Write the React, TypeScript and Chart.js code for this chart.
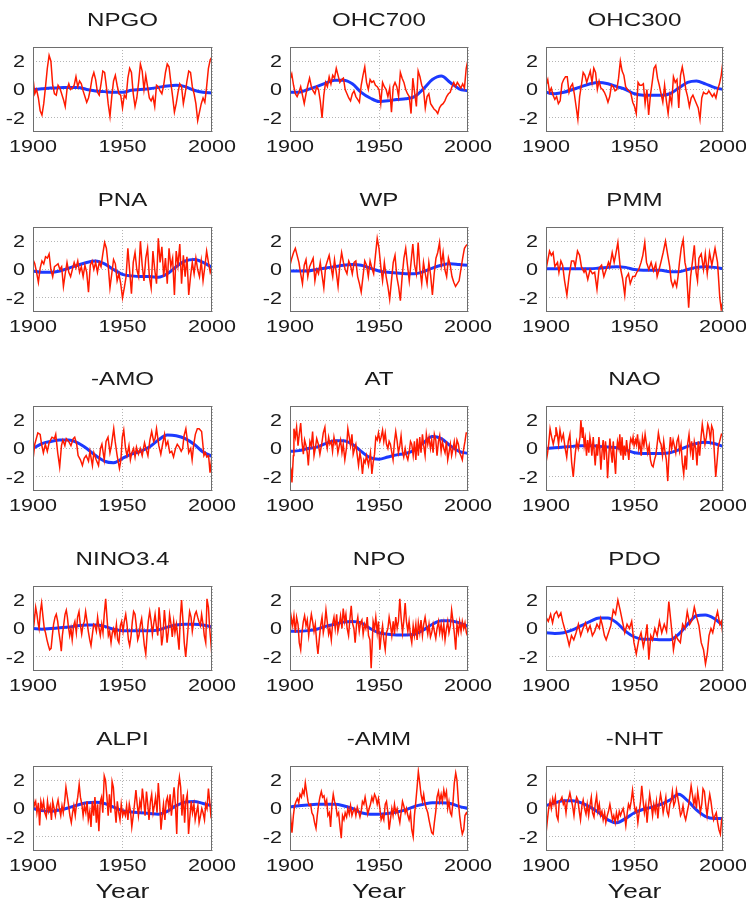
import { useEffect, useRef } from 'react';
import { Chart, registerables } from 'chart.js';
Chart.register(...registerables);

const xTicks = [1900, 1950, 2000];
const yTicks = [-2, 0, 2];
const smoothYears = [1900, 1905, 1910, 1915, 1920, 1925, 1930, 1935, 1940, 1945, 1950, 1955, 1960, 1965, 1970, 1975, 1980, 1985, 1990, 1995, 2000];
const titles = ['NPGO', 'OHC700', 'OHC300', 'PNA', 'WP', 'PMM', '-AMO', 'AT', 'NAO', 'NINO3.4', 'NPO', 'PDO', 'ALPI', '-AMM', '-NHT'];
const xLabel = 'Year';

// yearly values 1900..2000
const npgoRed = [0.8, -0.3, 0.0, -0.6, -1.5, -1.8, -1.0, 0.2, 1.5, 2.4, 2.0, 0.3, -0.3, -0.4, 0.3, 0.1, -0.3, -0.7, -1.2, 0.0, 0.4, 0.0, 0.1, 0.3, 0.9, 0.2, 0.6, 0.4, -0.1, -0.5, -0.9, -0.6, 0.0, 0.8, 1.2, 0.7, -0.2, -0.4, 0.4, 1.3, 1.2, 0.2, -1.0, -1.9, -0.5, 0.6, 1.0, 0.3, -0.3, -0.4, -1.3, -0.4, -0.6, 0.8, 1.5, 1.2, -0.3, -1.2, -0.6, 0.5, 1.8, 1.3, 0.0, 1.0, 0.2, -0.6, -0.8, -0.5, -1.2, 0.3, 0.2, -0.1, -0.3, 0.3, 1.2, 1.8, 1.6, 0.5, -0.5, -1.6, -1.0, -0.2, 0.4, 0.2, -1.0, -0.3, 0.6, 1.3, 1.2, 0.2, -0.3, -1.0, -2.2, -1.6, -1.0, -0.6, -0.9, 0.2, 1.5, 2.1, 2.3];
const npgoBlue = [0.0, 0.05, 0.1, 0.12, 0.15, 0.15, 0.0, -0.1, -0.15, -0.2, -0.2, -0.05, 0.0, 0.05, 0.15, 0.25, 0.3, 0.2, -0.05, -0.2, -0.25];

const ohc700Red = [0.7, 1.1, 0.3, -0.3, -0.5, -0.2, 0.2, -0.4, -1.0, -0.3, 0.3, 0.8, 0.2, -0.1, -0.3, 0.2, 0.0, -0.8, -2.0, -0.4, 0.5, 0.2, 0.9, 0.4, 1.0, 0.8, 1.5, 1.0, 0.5, 0.7, 0.8, 0.0, -0.3, -0.6, -0.8, -0.3, -0.1, -0.5, -0.7, -0.9, 0.3, 1.0, 1.6, 0.5, 0.0, 0.7, 0.5, 0.6, 0.3, 0.2, 0.0, -1.0, 0.5, 0.2, 0.0, -0.5, 0.1, -1.6, 0.2, 0.5, 0.2, -0.5, 1.2, 0.8, 0.5, 0.0, -0.3, -0.5, -1.7, 0.8, -0.2, -1.2, 1.3, 0.9, 0.3, 0.0, -1.3, -0.5, -0.3, -1.0, -1.2, -1.4, -1.5, -1.7, -1.3, -1.1, -1.0, -0.8, -0.5, -0.3, -0.2, 0.2, 0.5, 0.2, 0.5, 0.3, 0.1, 0.4, 0.1, 1.5, 2.1];
const ohc700Blue = [-0.2, -0.2, 0.0, 0.2, 0.45, 0.65, 0.65, 0.4, -0.2, -0.6, -0.85, -0.8, -0.7, -0.65, -0.5, 0.05, 0.7, 0.95, 0.5, 0.05, -0.1];

const ohc300Red = [0.3, 0.7, -0.2, 0.1, -0.4, -0.7, -0.5, -1.0, -0.8, 0.4, 0.7, 0.9, 0.9, -0.2, 0.2, 0.4, -0.3, -1.2, -2.1, -0.5, 0.3, 1.2, 1.0, 0.5, 0.9, 1.3, 0.5, 1.5, 1.2, 0.0, 0.6, 0.1, 0.0, -0.2, -0.5, -0.9, -0.5, 0.3, 0.2, -0.1, 0.0, 0.8, 2.0, 1.3, 1.0, 0.2, 0.0, -0.1, -0.3, -0.9, -1.2, -1.7, 0.5, 0.3, 0.3, 0.4, -1.0, 0.0, -1.8, -0.4, 0.5, 1.5, 1.7, 0.8, 0.3, -0.3, -0.9, 0.3, -0.8, -1.7, -0.4, -1.0, 0.9, 0.5, 0.7, -1.3, 1.0, 1.6, 0.9, 0.0, -0.5, -1.2, -0.6, -0.4, -0.7, -1.0, -1.3, -2.1, -0.6, -0.2, -0.3, -0.3, -0.1, -0.3, -0.5, -0.3, -0.6, 0.0, 0.4, 1.0, 2.0];
const ohc300Blue = [-0.2, -0.3, -0.2, 0.0, 0.2, 0.4, 0.5, 0.4, 0.2, 0.0, -0.3, -0.4, -0.4, -0.4, -0.3, 0.1, 0.5, 0.6, 0.4, 0.15, 0.0];

const pnaRed = [0.7, 0.4, -0.2, -0.9, 0.1, 0.6, 0.4, 0.9, 0.8, 1.1, 0.0, -0.5, 0.2, 0.3, 0.4, 0.0, 0.2, -1.2, -0.3, 0.5, -0.2, -0.5, 0.0, 0.5, 0.1, 0.6, -0.2, 0.2, -0.5, 0.3, -0.2, -1.6, 0.3, 0.6, 0.0, 0.5, -0.2, 0.5, 0.2, 1.1, 1.9, 1.5, 0.3, -1.3, -0.3, 0.7, 0.4, -0.8, -0.3, -1.0, -2.0, -1.3, -0.5, 1.5, -0.1, -1.7, 0.5, 1.2, 0.0, -0.5, 2.0, 0.3, -0.8, 0.8, 1.5, -0.5, -1.3, 1.3, 0.0, -1.0, 2.2, 0.5, 1.6, -0.5, 0.8, -1.0, 1.5, 0.2, 0.8, -1.8, 1.3, 0.3, 1.8, -1.0, 1.0, -0.5, 0.9, -1.8, -0.5, 0.5, -0.3, 0.8, 0.0, -0.5, 0.6, -0.8, 0.2, 1.3, 0.5, -0.2, 0.2];
const pnaBlue = [-0.1, -0.2, -0.2, -0.1, 0.1, 0.3, 0.5, 0.6, 0.4, 0.0, -0.35, -0.45, -0.5, -0.5, -0.55, -0.3, 0.2, 0.6, 0.7, 0.5, 0.15];

const wpRed = [0.3, 0.8, 1.2, 1.5, 1.0, 0.5, -0.3, -1.0, 0.3, 0.7, -0.5, 0.2, 0.5, 0.8, -0.8, 0.0, -0.3, 0.5, -0.4, -1.3, 0.2, 0.6, 1.0, 0.2, -0.5, 0.7, -0.2, -1.2, 0.3, 1.2, 0.5, 0.0, -0.3, 0.6, 0.3, -0.3, 0.5, 0.6, -0.5, -1.0, -1.6, -0.5, 0.6, 0.3, -0.5, 0.6, 0.1, -0.3, 1.0, 2.2, 1.5, 0.2, -0.8, 0.5, -0.5, -1.2, -2.1, -0.8, 0.5, 1.0, -0.5, -1.2, -2.2, -0.5, 0.8, 1.5, 0.3, -0.8, 0.5, 1.8, 0.3, -0.3, 1.9, 0.0, -1.0, 0.5, -0.3, -1.0, 0.5, -0.4, -1.8, -0.3, 0.8, 1.2, 1.9, 0.3, 1.2, 0.0, -0.5, 0.8, 0.3, -0.5, -0.9, -1.2, -1.0, -0.8, 0.0, 0.8, 1.5, 1.7, 1.8];
const wpBlue = [-0.1, -0.1, -0.1, 0.0, 0.1, 0.2, 0.3, 0.35, 0.3, 0.1, -0.1, -0.2, -0.25, -0.3, -0.3, -0.15, 0.1, 0.3, 0.4, 0.35, 0.3];

// [year, value] readings
const pmmRed = [[1900, 0.0], [1902, 1.3], [1903, 1.0], [1904, 1.2], [1905, 0.2], [1906.5, 0.5], [1907.3, -0.2], [1908.4, 0.6], [1909.4, 0.3], [1910.5, -0.8], [1911.8, -1.8], [1913, -0.5], [1914.4, 0.6], [1915.7, 0.6], [1916.5, 0.2], [1917.8, 1.3], [1919, 1.0], [1920, 0.2], [1921.5, -0.2], [1922.3, 0.0], [1923.6, -0.7], [1924.9, 0.0], [1926.2, -0.3], [1927.5, -0.2], [1928.8, -1.4], [1930, 0.1], [1931.4, 0.3], [1932.7, -0.5], [1934, 0.0], [1935.3, 0.5], [1936, 0.2], [1937.4, 1.2], [1938.5, 0.5], [1939.3, 1.0], [1940.6, 1.9], [1941.9, 0.2], [1943.2, -0.6], [1944.5, -1.8], [1945.3, -0.6], [1946.6, -0.3], [1947.6, -1.0], [1949, -0.5], [1950.3, -0.5], [1951.3, -0.2], [1952.4, 0.0], [1953.7, 0.5], [1954.7, 1.0], [1955.8, 1.9], [1956.8, 0.5], [1958.1, 0.0], [1959.4, 0.5], [1960.7, -0.1], [1962, 0.4], [1962.8, -0.5], [1963.9, 0.0], [1964.9, 0.5], [1966.2, 1.2], [1967.5, 2.0], [1968.8, 1.0], [1969.9, 0.2], [1970.7, -0.8], [1971.7, -1.2], [1972.8, -0.8], [1973.8, -1.2], [1974.6, -0.5], [1975.4, 0.5], [1976.4, 1.5], [1977.5, 2.1], [1978.5, 0.5], [1979.3, 0.0], [1980.6, -2.7], [1981.7, -0.5], [1982.7, 0.5], [1983.8, 1.7], [1984.8, -0.2], [1985.6, -0.8], [1986.4, 0.8], [1987.7, 1.1], [1989, 0.0], [1990, 1.1], [1991.1, -0.3], [1992.4, 1.2], [1993.7, 0.3], [1995.5, 1.5], [1996.9, 0.5], [1998.2, -2.0], [1999, -2.8], [2000, -2.2]];
const pmmBlue = [0.05, 0.05, 0.05, 0.05, 0.05, 0.05, 0.1, 0.15, 0.2, 0.15, 0.0, -0.05, -0.05, -0.05, -0.15, -0.15, 0.0, 0.15, 0.2, 0.15, 0.05];

const amoRed = [[1900, -0.8], [1901, 0.3], [1902.7, 1.1], [1904, 1.0], [1904.8, 0.3], [1905.8, -0.3], [1906.9, 0.3], [1908, -0.2], [1909, 0.4], [1910.6, 0.8], [1912, 0.7], [1912.7, 1.0], [1913.8, -0.3], [1914.9, -1.3], [1915.9, 0.2], [1916.7, 0.6], [1917.8, 0.2], [1918.6, 0.7], [1919.9, 0.5], [1921.2, 0.2], [1922.5, 0.7], [1923.3, 0.8], [1924.4, 0.3], [1925.2, -0.5], [1926.5, -0.8], [1927.6, -1.2], [1928.6, -0.7], [1929.7, -0.5], [1931, -0.9], [1931.8, -0.2], [1933.2, -1.2], [1934, -0.3], [1935.3, -0.8], [1936.6, -1.2], [1937.7, 0.0], [1938.5, 0.3], [1939.8, -0.8], [1940.8, 0.5], [1941.9, 0.8], [1943, -0.3], [1943.8, 0.2], [1945.1, 1.4], [1945.9, 0.5], [1947, -0.5], [1948.3, -1.4], [1949.1, -0.8], [1949.9, 0.8], [1950.7, 1.3], [1951.7, 0.0], [1952.5, -0.5], [1953.6, 0.2], [1954.4, -0.8], [1955.2, -0.3], [1956.2, 0.0], [1957, -0.6], [1957.8, 0.1], [1958.9, -0.4], [1959.9, 0.0], [1961, -0.5], [1962.3, 0.4], [1963.1, 0.0], [1964.2, -0.5], [1965.3, 0.6], [1966.3, 1.2], [1967.4, 0.5], [1968.2, 0.7], [1969, 1.4], [1970.3, 0.2], [1971.4, -0.4], [1972.4, 0.3], [1973.5, 1.0], [1974.3, 0.2], [1975.3, 0.5], [1976.4, -0.3], [1977.5, -0.2], [1978.5, -0.6], [1979.6, 0.0], [1980.6, 0.3], [1981.7, 0.1], [1982.8, -0.2], [1983.6, 0.0], [1984.4, 0.9], [1985.4, 1.4], [1986.2, 0.6], [1987, -0.3], [1988.1, 0.0], [1988.9, -0.8], [1989.7, 0.2], [1990.7, 1.0], [1991.8, 1.4], [1992.8, 1.4], [1994.2, 1.2], [1995.5, -0.5], [1996.3, -0.3], [1997.1, -0.6], [1998.1, -0.5], [1998.9, -1.7], [2000, -0.5]];
const amoBlue = [0.0, 0.35, 0.5, 0.6, 0.6, 0.4, 0.0, -0.5, -0.9, -1.0, -0.7, -0.4, -0.2, 0.1, 0.6, 0.95, 0.9, 0.7, 0.3, -0.25, -0.55];

const atRed = [[1900, -1.2], [1900.6, -1.5], [1901.1, -2.4], [1901.9, -0.5], [1902.2, 1.4], [1903, 0.8], [1903.7, 1.5], [1904.5, 0.2], [1905.2, 1.0], [1906, 1.8], [1906.7, 0.5], [1907.5, -0.4], [1908.2, 0.6], [1909, 0.2], [1909.7, -0.3], [1910.3, -1.2], [1911.2, 0.5], [1912, 0.2], [1912.7, 1.2], [1913.5, -0.5], [1914.2, 0.0], [1915, 0.7], [1915.9, 0.3], [1916.8, -0.4], [1917.8, 0.3], [1918.7, 1.1], [1919.6, 1.5], [1920.2, 0.5], [1920.9, 0.0], [1921.7, 0.8], [1922.4, 0.3], [1923.2, 0.5], [1923.9, -0.2], [1924.7, 0.8], [1925.4, 0.3], [1926.2, 0.5], [1926.9, -0.3], [1927.7, 0.2], [1928.4, 0.6], [1929.2, -0.3], [1929.9, 0.3], [1930.8, -0.8], [1931.8, 0.1], [1932.5, 1.4], [1933.3, 0.8], [1934, 0.2], [1934.8, 1.0], [1935.5, -0.4], [1936.3, 0.0], [1937, 0.3], [1937.8, -0.5], [1938.5, -1.2], [1939.3, -0.3], [1940, -0.8], [1940.7, -1.8], [1941.5, -0.8], [1942.2, -1.0], [1943, -0.5], [1944.1, -1.2], [1945.2, -0.3], [1946, -1.8], [1946.7, -1.0], [1947.5, -0.4], [1948.2, 0.8], [1949, 0.6], [1949.7, 1.1], [1950.5, 0.5], [1951.2, 0.8], [1952, 1.3], [1952.7, 0.5], [1953.5, 1.1], [1954.2, 0.3], [1955, 0.0], [1955.7, 0.5], [1956.4, 0.3], [1957.2, -0.3], [1957.9, -0.8], [1958.7, 0.5], [1959.4, 1.2], [1960.2, 0.5], [1960.9, -0.3], [1961.7, 0.2], [1962.4, 0.9], [1963.2, -0.2], [1963.9, -0.6], [1964.7, 0.0], [1965.4, -0.5], [1966.2, -0.8], [1966.9, -0.3], [1967.7, 0.5], [1968.4, 0.3], [1969.2, -0.5], [1969.9, 0.5], [1970.7, -0.8], [1971.4, 0.7], [1972.1, -0.5], [1972.9, 0.8], [1973.6, -0.3], [1974.4, 1.0], [1975.1, 0.2], [1975.9, -0.5], [1976.6, 1.0], [1977.4, 0.3], [1978.1, 0.8], [1978.9, 0.0], [1979.6, 0.6], [1980.4, -0.3], [1981.1, 1.0], [1981.9, 0.6], [1982.6, -0.5], [1983.4, 0.5], [1984.1, 0.9], [1984.9, -0.2], [1985.6, 0.5], [1986.4, 0.0], [1987.1, -0.3], [1987.9, 0.5], [1988.6, -0.8], [1989.3, -0.3], [1990.1, 0.3], [1990.8, -0.5], [1991.6, 0.0], [1992.3, 0.5], [1993.1, -0.3], [1993.8, 0.6], [1994.6, 0.3], [1995.3, -0.3], [1996, -0.5], [1996.8, -0.8], [1997.6, 0.0], [1998.3, 0.5], [1999, 1.1], [2000, 1.1]];
const atBlue = [-0.2, -0.15, 0.0, 0.1, 0.35, 0.55, 0.55, 0.3, -0.2, -0.65, -0.75, -0.6, -0.45, -0.35, -0.1, 0.4, 0.85, 0.7, 0.2, -0.2, -0.35];

const naoRed = [[1900, -1.0], [1900.8, -0.4], [1901.5, 0.3], [1902.3, 1.4], [1903.2, 0.8], [1904.1, 0.3], [1905.1, 0.9], [1905.6, 1.5], [1906.4, 1.0], [1907.1, 0.3], [1907.9, 1.3], [1908.8, 0.6], [1909.8, 1.0], [1910.7, 0.1], [1911.7, -0.6], [1912.6, 0.5], [1913.5, 1.0], [1914.5, -1.0], [1915.4, -2.0], [1916.4, -0.5], [1917.3, 0.5], [1918.2, 0.0], [1919.2, 0.8], [1919.7, 2.0], [1920.5, 0.8], [1920.9, 1.5], [1921.6, 0.2], [1922.2, 0.7], [1922.9, -0.5], [1923.5, 0.6], [1924.2, -0.3], [1924.8, 0.8], [1925.4, 0.3], [1925.9, -0.5], [1926.7, 0.8], [1927.2, -0.2], [1927.8, -1.2], [1928.6, 0.3], [1929.1, -0.5], [1929.9, 0.8], [1930.5, -0.3], [1931, -1.5], [1931.8, 0.0], [1932.3, 0.6], [1932.9, -0.8], [1933.6, 0.5], [1934.2, -0.3], [1934.8, -2.1], [1935.5, -0.5], [1936.1, 0.7], [1936.7, -0.2], [1937.4, -1.0], [1938, 0.5], [1938.5, -0.5], [1939.3, -1.8], [1939.8, -0.3], [1940.4, 0.5], [1941.2, 0.0], [1941.7, 1.0], [1942.3, -0.5], [1943, 0.8], [1943.6, -0.8], [1944.2, 0.2], [1944.9, -0.5], [1945.5, 0.6], [1946, 0.0], [1946.8, -0.8], [1947.4, 0.3], [1947.9, 0.7], [1948.7, 0.4], [1949.2, 0.8], [1949.8, 0.2], [1950.6, 0.6], [1951.1, 0.3], [1951.7, 1.0], [1952.4, 0.0], [1953, 0.4], [1953.8, -0.5], [1954.5, 0.8], [1955.3, 0.2], [1956, 1.0], [1956.8, 0.3], [1957.5, -0.3], [1958.3, 0.2], [1959, -0.8], [1959.8, -1.2], [1960.5, -1.3], [1961.3, -0.8], [1962, -0.5], [1962.8, 0.3], [1963.5, 1.1], [1964.3, 0.5], [1965, 0.3], [1965.8, -0.5], [1966.5, 0.5], [1967.3, -0.3], [1968, -0.8], [1968.8, -2.3], [1969.5, -0.5], [1970.3, 0.8], [1971, 0.0], [1971.8, 0.6], [1972.5, 0.2], [1973.3, -0.3], [1974, 0.5], [1974.8, 0.8], [1975.5, -0.2], [1976.3, 0.3], [1977, -1.0], [1977.8, -1.8], [1978.6, -0.5], [1979.3, -1.5], [1980, 0.3], [1980.8, 1.0], [1981.6, -0.2], [1982.3, 0.5], [1983, -0.8], [1983.8, 0.5], [1984.6, 0.0], [1985.3, -1.2], [1986, 0.5], [1986.8, -0.5], [1987.6, 0.8], [1988.3, 1.7], [1989.1, 1.0], [1989.8, 0.3], [1990.6, 0.8], [1991.4, 1.7], [1992.1, 1.4], [1992.9, 0.6], [1993.6, 1.6], [1994.4, 1.3], [1995.1, -0.3], [1995.9, -2.0], [1996.6, -1.0], [1997.4, 0.2], [1998.1, 0.5], [1999.1, 1.0], [2000, 0.9]];
const naoBlue = [0.0, 0.05, 0.1, 0.15, 0.2, 0.2, 0.15, 0.1, 0.05, -0.1, -0.3, -0.35, -0.35, -0.35, -0.3, -0.1, 0.15, 0.35, 0.45, 0.35, 0.15];

const ninoRed = [[1900, 1.2], [1900.7, 0.5], [1901.5, 1.5], [1902.2, 1.0], [1902.8, 0.4], [1903.4, 0.0], [1904.1, 1.2], [1904.8, 1.8], [1905.6, 0.8], [1906.3, 0.0], [1907, -0.3], [1907.8, -0.8], [1908.6, -1.2], [1909.3, -1.5], [1910.1, -1.4], [1910.8, -0.5], [1911.5, 0.3], [1912.3, 0.8], [1913, 1.0], [1913.8, 0.5], [1914.5, -0.3], [1915.3, -1.0], [1915.8, -1.6], [1916.4, -0.5], [1917.1, 0.2], [1917.9, 1.0], [1918.6, 1.3], [1919.2, 0.8], [1919.7, 0.2], [1920.5, -0.5], [1921.2, 0.0], [1921.9, -0.8], [1922.7, 0.2], [1923.4, 0.5], [1924.2, -0.3], [1924.9, 0.8], [1925.7, 1.2], [1926.4, 0.3], [1927.2, -0.4], [1927.9, 0.2], [1928.7, 0.5], [1929.4, 1.2], [1930.2, 0.5], [1930.9, -0.2], [1931.7, -0.8], [1932.4, -1.2], [1933.1, -0.5], [1933.9, 0.3], [1934.6, 0.2], [1935.4, -0.2], [1936.1, 0.8], [1936.9, 0.0], [1937.6, -0.5], [1938.4, 0.3], [1939.1, -0.3], [1939.8, 1.0], [1940.6, 2.1], [1941.3, 0.8], [1942.1, -0.5], [1942.8, -0.2], [1943.6, -1.0], [1944.3, -0.3], [1945, 0.0], [1945.8, -0.5], [1946.6, 0.3], [1947.3, -0.8], [1948, -1.0], [1948.8, 0.2], [1949.5, 0.5], [1950.3, -0.2], [1951, 0.5], [1951.8, 1.0], [1952.5, 0.3], [1953.3, -0.8], [1954, -1.2], [1954.8, -0.5], [1955.5, 0.5], [1956.2, 1.2], [1957, 1.0], [1957.7, 0.2], [1958.5, -0.8], [1959.2, -0.5], [1960, 0.3], [1960.7, 0.7], [1961.5, -0.3], [1962.2, -1.2], [1963, -1.8], [1963.7, -0.5], [1964.4, 0.5], [1965.2, 1.2], [1966, 0.5], [1966.7, -0.4], [1967.4, 0.3], [1968.2, 1.0], [1968.9, 0.2], [1969.7, -0.5], [1970.4, 1.5], [1971.1, 0.5], [1971.9, -1.2], [1972.6, -0.5], [1973.4, 1.3], [1974.1, 0.3], [1974.9, -1.0], [1975.6, -0.2], [1976.3, 1.0], [1977.1, 0.3], [1977.8, -0.6], [1978.6, 0.5], [1979.3, -0.3], [1980.1, 0.3], [1980.8, -0.5], [1981.6, -1.5], [1982.3, 0.8], [1983, 2.0], [1983.8, 0.5], [1984.5, -1.0], [1985.3, -2.0], [1986, -1.0], [1986.8, 0.3], [1987.5, 1.2], [1988.3, 0.8], [1989, -0.2], [1989.8, 0.5], [1990.5, 1.0], [1991.2, 1.2], [1992, 0.8], [1992.7, 0.5], [1993.5, 0.2], [1994.2, 1.0], [1995, 0.3], [1995.7, -0.5], [1996.5, -1.0], [1997.2, 2.1], [1998, 1.5], [1998.7, 0.0], [1999.4, -1.0], [2000, -2.0]];
const ninoBlue = [0.0, -0.05, 0.0, 0.05, 0.1, 0.2, 0.25, 0.25, 0.15, -0.05, -0.15, -0.15, -0.15, -0.15, -0.1, 0.1, 0.25, 0.3, 0.3, 0.25, 0.1];

const npoRed = [[1900, -0.5], [1900.7, 0.8], [1901.5, 0.2], [1902.2, 0.9], [1903, -0.3], [1903.7, 0.8], [1904.5, 0.3], [1905.2, -1.0], [1906, -1.5], [1906.7, -0.3], [1907.5, 0.5], [1908.2, 0.9], [1909, 0.2], [1909.7, 0.6], [1910.5, -0.5], [1911.2, 0.3], [1912, 1.0], [1912.7, 0.5], [1913.5, -0.2], [1914.2, 0.3], [1915, -1.0], [1915.7, -1.8], [1916.4, -0.8], [1917.2, 0.2], [1918, 0.8], [1918.7, -0.3], [1919.4, 0.2], [1920.2, 1.3], [1920.9, 0.5], [1921.7, -0.4], [1922.4, 0.0], [1923.2, -0.8], [1923.9, 0.3], [1924.7, 0.8], [1925.4, 0.0], [1926.2, 1.0], [1926.9, -0.2], [1927.7, 0.3], [1928.4, 0.9], [1929.2, 0.0], [1929.9, 1.4], [1930.7, 0.5], [1931.4, 1.0], [1932.1, 0.0], [1932.9, -0.5], [1933.6, 0.6], [1934.4, 1.6], [1935.1, 0.4], [1935.9, 0.0], [1936.6, -1.0], [1937.4, 0.3], [1938.1, 0.8], [1938.9, -0.2], [1939.6, 0.4], [1940.4, 0.6], [1941.1, -0.4], [1941.9, 0.3], [1942.6, 0.0], [1943.4, 0.8], [1944.1, -0.5], [1944.9, -0.8], [1945.6, -2.8], [1946.2, -1.0], [1946.7, 0.5], [1947.5, 0.0], [1948.2, 0.8], [1949, -0.3], [1949.7, 0.5], [1950.5, -1.5], [1951.2, -0.5], [1952, 0.2], [1952.7, -0.8], [1953.5, -1.5], [1954.2, -0.3], [1955, 0.0], [1955.7, 0.8], [1956.5, 0.2], [1957.2, -0.5], [1958, 0.5], [1958.7, -0.4], [1959.4, 0.8], [1960.2, 0.0], [1960.9, 0.5], [1961.7, 2.1], [1962.4, 0.8], [1963.2, -0.3], [1963.9, 0.5], [1964.7, 1.8], [1965.4, 0.5], [1966.2, -0.2], [1966.9, 0.5], [1967.7, -0.5], [1968.4, -1.0], [1969.2, 0.2], [1969.9, -0.5], [1970.7, 0.3], [1971.4, -0.8], [1972.1, 0.4], [1972.9, -0.3], [1973.6, 0.6], [1974.4, -0.5], [1975.1, 0.3], [1975.9, 0.8], [1976.6, 0.2], [1977.4, -0.4], [1978.1, 0.3], [1978.9, -0.6], [1979.6, -0.3], [1980.4, 0.3], [1981.1, -0.2], [1981.9, -0.7], [1982.6, 0.0], [1983.4, 0.5], [1984.1, -0.3], [1984.9, 0.3], [1985.6, -0.5], [1986.4, 0.3], [1987.1, -0.8], [1987.9, 0.0], [1988.6, 0.5], [1989.3, -0.3], [1990.1, 0.2], [1990.8, 1.3], [1991.6, 0.5], [1992.3, -0.3], [1993.1, -1.5], [1993.8, 0.3], [1994.6, -0.3], [1995.3, 0.5], [1996.1, -0.2], [1996.8, 0.5], [1997.6, 0.0], [1998.3, 0.4], [1999.1, -0.3], [2000, -0.6]];
const npoBlue = [-0.2, -0.2, -0.15, -0.05, 0.15, 0.3, 0.45, 0.5, 0.4, 0.0, -0.3, -0.4, -0.45, -0.45, -0.4, -0.1, 0.3, 0.55, 0.55, 0.4, 0.15];

const pdoRed = [[1900, 0.8], [1901.3, 0.5], [1902.6, 1.0], [1903.7, 0.4], [1904.7, 1.0], [1906, 1.2], [1907.1, 0.8], [1908.4, 1.1], [1909.4, 0.5], [1910.5, 0.0], [1911.8, -0.5], [1913.1, -1.2], [1914.4, -0.5], [1915.7, -0.8], [1917, -0.3], [1918.3, 0.3], [1919.6, -0.5], [1920.9, 0.0], [1922.3, 0.4], [1923.6, -0.2], [1924.9, 0.2], [1926.2, -0.5], [1927.5, -0.2], [1928.8, 0.3], [1930.1, 0.0], [1930.9, 0.7], [1931.9, 0.2], [1933, -0.5], [1934, -0.8], [1935.3, -0.3], [1936.6, 0.2], [1938, 1.3], [1939.3, 1.0], [1940.6, 2.0], [1941.9, 1.3], [1943.2, 0.5], [1944.5, -0.3], [1945.8, 0.3], [1947.1, 0.0], [1948.4, 0.5], [1949.7, -1.0], [1951, -1.8], [1952.4, -0.8], [1953.7, -0.3], [1955, -1.3], [1956.3, -0.5], [1957.1, 0.3], [1958.1, -2.2], [1959.2, -0.5], [1960.2, -0.8], [1961.5, 0.0], [1962.8, -0.5], [1964.1, 0.5], [1965.4, -0.3], [1966.8, 0.3], [1968.1, -0.2], [1969.4, 1.9], [1970.7, 0.3], [1972, -1.5], [1973.3, -0.5], [1974.6, -0.8], [1975.9, -1.0], [1977.2, 0.3], [1978.5, 0.0], [1979.8, 1.2], [1981.2, 0.3], [1982.5, 0.6], [1983.8, 1.5], [1985.1, 0.8], [1986.4, 0.2], [1987.7, -1.0], [1989, -1.5], [1990.1, -2.5], [1991.1, -1.8], [1992.1, -0.5], [1993.2, 0.0], [1994.2, -0.3], [1995.5, 0.5], [1996.9, 1.2], [1998.2, 0.3], [1999, 0.5], [2000, -0.5]];
const pdoBlue = [-0.3, -0.35, -0.3, -0.1, 0.2, 0.5, 0.75, 0.75, 0.4, -0.2, -0.6, -0.75, -0.75, -0.8, -0.8, -0.4, 0.3, 0.9, 0.95, 0.7, 0.2];

const alpiRed = [[1900, 0.9], [1900.7, 0.2], [1901.5, 0.5], [1902.2, -0.3], [1903, 0.4], [1903.7, -1.2], [1904.4, 0.5], [1905.2, 0.0], [1905.9, 0.5], [1906.6, -0.3], [1907.4, -0.6], [1908.1, 0.5], [1908.8, -0.2], [1909.6, 0.2], [1910.3, -0.8], [1911, 0.5], [1911.8, 0.0], [1912.5, -0.5], [1913.3, 0.2], [1914, 0.6], [1914.7, 0.0], [1915.5, -0.5], [1916.2, 0.2], [1916.9, -0.3], [1917.7, 0.5], [1918.4, 1.5], [1919.2, 0.8], [1919.9, 0.2], [1920.6, -0.5], [1921.4, -1.0], [1922.1, -0.3], [1922.8, 0.2], [1923.6, -0.5], [1924.3, 0.3], [1925, 0.8], [1925.8, 1.7], [1926.5, 0.8], [1927.3, 0.3], [1928, -0.5], [1928.7, 0.2], [1929.5, -0.3], [1930.2, 0.5], [1930.9, -0.8], [1931.7, -0.2], [1932.4, -1.3], [1933.1, 0.5], [1933.9, -0.5], [1934.6, 0.8], [1935.4, -1.0], [1936.1, 0.3], [1936.8, -1.6], [1937.6, 0.5], [1938.3, 0.8], [1939, -0.3], [1939.8, 2.3], [1940.5, 2.0], [1941.3, 0.8], [1942, -0.5], [1942.7, 1.0], [1943.5, -0.3], [1944.2, 1.9], [1944.9, 1.5], [1945.7, 0.0], [1946.4, -1.0], [1947.1, 0.5], [1947.9, -0.3], [1948.6, -0.8], [1949.3, 0.3], [1950.1, -0.5], [1950.8, -0.2], [1951.6, -0.5], [1952.3, 0.2], [1953, -0.8], [1953.8, 0.3], [1954.5, -0.2], [1955.2, -1.3], [1956, -0.5], [1956.7, 0.3], [1957.5, 1.3], [1958.2, 0.3], [1958.9, -0.5], [1959.7, 0.5], [1960.4, 0.0], [1961.1, 1.4], [1961.9, 0.5], [1962.6, -0.5], [1963.4, 1.2], [1964.1, 0.3], [1964.8, -0.8], [1965.6, 0.5], [1966.3, 1.0], [1967.1, -0.3], [1967.8, 0.2], [1968.5, 0.8], [1969.3, -0.3], [1970, 1.8], [1970.7, 0.5], [1971.5, -1.5], [1972.2, -0.5], [1972.9, 0.3], [1973.7, -0.8], [1974.4, 0.5], [1975.1, 0.8], [1975.9, 0.0], [1976.6, 1.0], [1977.3, -0.5], [1978.1, 0.5], [1978.8, 1.5], [1979.6, 0.2], [1980.3, -1.8], [1981, 1.3], [1981.8, 2.2], [1982.5, 1.5], [1983.2, -0.5], [1984, 1.0], [1984.7, -1.0], [1985.4, 0.5], [1986.2, 1.0], [1986.9, -1.8], [1987.7, -0.5], [1988.4, 0.5], [1989.1, -0.3], [1989.9, 0.3], [1990.6, -0.8], [1991.3, -0.3], [1992.1, 0.2], [1992.8, -1.0], [1993.6, -0.5], [1994.3, 0.0], [1995, -0.3], [1995.8, -0.8], [1996.5, 0.3], [1997.2, 0.0], [1998, 1.4], [1998.7, 0.5], [1999.4, -0.5], [2000, -0.3]];
const alpiBlue = [0.0, -0.15, -0.2, -0.1, 0.05, 0.25, 0.4, 0.45, 0.35, 0.1, -0.15, -0.25, -0.3, -0.35, -0.4, -0.2, 0.2, 0.45, 0.5, 0.35, 0.2];

const ammRed = [[1900, 0.1], [1900.6, -1.0], [1901.1, -1.7], [1901.9, -0.5], [1902.6, 0.2], [1903.4, 0.5], [1904.1, 0.7], [1904.9, 0.4], [1905.6, 1.0], [1906.4, 0.8], [1907.1, 1.3], [1907.9, 1.0], [1908.6, 1.8], [1909.3, 1.2], [1910.1, 0.5], [1910.8, 0.2], [1911.6, 0.3], [1912.3, -0.3], [1913.1, -0.5], [1913.8, -1.0], [1914.6, -1.4], [1915.3, -0.5], [1916.1, 0.3], [1916.8, 0.8], [1917.6, 1.2], [1918.3, 0.8], [1919.1, 0.9], [1919.8, 0.3], [1920.6, 0.6], [1921.3, -0.5], [1922.1, -0.3], [1922.8, -1.3], [1923.6, 0.3], [1924.3, 1.0], [1925, 0.5], [1925.8, 0.2], [1926.5, -0.5], [1927.3, -0.3], [1928, -1.2], [1928.8, -2.1], [1929.5, -0.5], [1930.3, -0.8], [1931, -0.3], [1931.8, -0.6], [1932.5, 0.0], [1933.3, -0.4], [1934, 0.2], [1934.8, -0.5], [1935.5, -0.2], [1936.3, 0.0], [1937, -0.5], [1937.8, 0.1], [1938.5, -0.2], [1939.3, -0.6], [1940, -0.2], [1940.7, 0.5], [1941.5, 0.3], [1942.2, 0.8], [1943, 0.2], [1943.7, -0.4], [1944.5, 0.0], [1945.2, 0.3], [1946, 0.8], [1946.7, 0.5], [1947.5, 1.0], [1948.2, 0.8], [1949, 0.3], [1949.7, 0.7], [1950.5, 0.0], [1951.2, -0.8], [1952, -0.5], [1952.7, -0.8], [1953.5, 0.3], [1954.2, 0.5], [1955, -0.3], [1955.7, -1.5], [1956.4, -0.8], [1957.2, 0.0], [1957.9, -0.5], [1958.7, 0.3], [1959.4, -0.3], [1960.2, 0.0], [1960.9, -0.5], [1961.7, -1.0], [1962.4, -0.3], [1963.2, 0.5], [1963.9, 0.2], [1964.7, -0.3], [1965.4, 0.0], [1966.2, -0.5], [1966.9, -0.8], [1967.7, -0.3], [1968.4, -1.5], [1969.2, -2.0], [1969.9, -0.5], [1970.7, 0.5], [1971.4, 1.5], [1972.1, 2.6], [1972.9, 1.8], [1973.6, 1.0], [1974.4, 0.5], [1975.1, 1.0], [1975.9, 0.3], [1976.6, 0.0], [1977.4, -0.3], [1978.1, -0.8], [1978.9, -1.3], [1979.6, -1.7], [1980.4, -1.8], [1981.1, -1.0], [1981.9, -0.2], [1982.6, 0.8], [1983.4, 1.2], [1984.1, 0.5], [1984.9, 1.0], [1985.6, 0.5], [1986.4, 1.3], [1987.1, 0.8], [1987.9, 1.2], [1988.6, 0.0], [1989.3, 0.5], [1990.1, -0.3], [1990.8, -0.5], [1991.6, 0.5], [1992.3, 1.8], [1993.1, 2.5], [1993.8, 2.0], [1994.6, 0.5], [1995.3, -0.5], [1996.1, -1.3], [1996.8, -1.8], [1997.6, -1.5], [1998.3, -0.5], [1999.1, -0.3], [2000, -0.5]];
const ammBlue = [0.1, 0.2, 0.25, 0.3, 0.3, 0.3, 0.2, 0.0, -0.3, -0.4, -0.4, -0.35, -0.25, -0.1, 0.15, 0.3, 0.4, 0.4, 0.35, 0.15, 0.0];

const nhtRed = [[1900, -1.8], [1900.8, -0.8], [1901.5, 0.0], [1902.3, 0.5], [1903, 0.0], [1903.8, 0.7], [1904.5, 0.3], [1905.3, 0.8], [1906, -0.5], [1906.8, -0.8], [1907.5, 0.5], [1908.3, 0.6], [1909, 0.8], [1909.8, 0.3], [1910.5, 0.5], [1911.3, -0.3], [1912, 0.5], [1912.8, 0.7], [1913.5, 1.1], [1914.3, 0.6], [1915, 0.2], [1915.8, -0.5], [1916.5, 0.3], [1917.3, 0.8], [1918, 0.6], [1918.8, -0.2], [1919.5, -0.8], [1920.3, 0.2], [1921, 0.6], [1921.8, 0.0], [1922.6, -0.4], [1923.3, 0.3], [1924.1, -0.5], [1924.8, 0.2], [1925.6, 0.8], [1926.3, -0.3], [1927.1, -0.6], [1927.8, 0.3], [1928.6, 0.9], [1929.3, -0.2], [1930.1, 0.3], [1930.8, -0.5], [1931.6, -0.2], [1932.3, -0.8], [1933.1, -0.3], [1933.8, -1.0], [1934.6, -0.5], [1935.3, -0.2], [1936.1, 0.3], [1936.8, -0.2], [1937.6, -0.8], [1938.3, -0.5], [1939.1, -1.0], [1939.8, -0.3], [1940.6, -0.8], [1941.4, -0.2], [1942.1, -0.5], [1942.9, -0.2], [1943.6, 0.0], [1944.4, -0.5], [1945.1, -1.2], [1945.9, -0.3], [1946.6, 0.3], [1947.4, 0.0], [1948.1, 0.5], [1948.9, 1.3], [1949.6, 0.5], [1950.4, -0.2], [1951.1, 0.0], [1951.9, -1.0], [1952.6, -0.3], [1953.4, 0.5], [1954.1, 1.6], [1954.9, 0.5], [1955.6, -0.3], [1956.4, 0.3], [1957.1, -1.0], [1957.9, 0.2], [1958.6, 1.0], [1959.4, 0.3], [1960.2, -0.5], [1960.9, 0.3], [1961.7, -0.2], [1962.4, 0.5], [1963.2, -0.7], [1963.9, 0.3], [1964.7, 1.0], [1965.4, 0.5], [1966.2, -0.3], [1966.9, 0.2], [1967.7, 0.8], [1968.4, -0.2], [1969.2, -0.5], [1970, 0.3], [1970.7, 0.5], [1971.4, 1.2], [1972.2, 0.2], [1973, 0.5], [1973.7, 1.3], [1974.4, 0.8], [1975.2, 0.2], [1976, -0.5], [1976.7, -0.3], [1977.4, 0.2], [1978.2, -0.5], [1978.9, -0.8], [1979.7, -0.3], [1980.5, 0.2], [1981.2, 0.8], [1982, 1.6], [1982.7, 1.0], [1983.5, 0.3], [1984.2, 0.8], [1985, 0.0], [1985.7, 1.2], [1986.5, 0.5], [1987.2, -0.3], [1988, 0.3], [1988.7, 1.4], [1989.5, 1.2], [1990.2, 0.3], [1991, -0.5], [1991.7, 0.3], [1992.5, 1.0], [1993.2, 0.5], [1994, -0.3], [1994.7, -0.8], [1995.5, -0.5], [1996.2, -0.3], [1997, -1.0], [1997.7, -1.5], [1998.5, -1.8], [1999.2, -0.8], [2000, -0.5]];
const nhtBlue = [0.2, 0.4, 0.55, 0.55, 0.4, 0.1, -0.3, -0.8, -1.0, -0.7, -0.3, -0.05, 0.1, 0.3, 0.6, 1.0, 0.55, -0.1, -0.55, -0.7, -0.7];

const redSeries: any[] = [npgoRed, ohc700Red, ohc300Red, pnaRed, wpRed, pmmRed, amoRed, atRed, naoRed, ninoRed, npoRed, pdoRed, alpiRed, ammRed, nhtRed];
const blueSeries = [npgoBlue, ohc700Blue, ohc300Blue, pnaBlue, wpBlue, pmmBlue, amoBlue, atBlue, naoBlue, ninoBlue, npoBlue, pdoBlue, alpiBlue, ammBlue, nhtBlue];

// layout
const colLeft = [33, 290, 546];
const colWidth = [179, 178, 177];
const rowTop = [47, 227, 406, 586, 766];
const plotH = 85;
const PADL = 33;
const PADT = 47;
const CANVAS_W = 260;

const FONT = '"Liberation Sans", Arial, Helvetica, sans-serif';
const TITLE_SIZE = 19;
const TICK_SIZE = 17;
const LABEL_SIZE = 21;
const STRETCH = 1.27;

function toPoints(arr: any[]) {
  if (typeof arr[0] === 'number') return arr.map((v: number, i: number) => ({ x: 1900 + i, y: v }));
  return arr.map((p: number[]) => ({ x: p[0], y: p[1] }));
}

function stretchedText(ctx: CanvasRenderingContext2D, text: string, x: number, y: number, size: number, align: CanvasTextAlign, baseline: CanvasTextBaseline) {
  ctx.save();
  ctx.font = `${size}px ${FONT}`;
  ctx.fillStyle = '#1a1a1a';
  ctx.textAlign = align;
  ctx.textBaseline = baseline;
  ctx.translate(x, y);
  ctx.scale(STRETCH, 1);
  ctx.fillText(text, 0, 0);
  ctx.restore();
}

function Panel({ idx }: { idx: number }) {
  const ref = useRef<HTMLCanvasElement | null>(null);
  const r = Math.floor(idx / 3);
  const c = idx % 3;
  const last = r === 4;
  const canvasH = last ? 903 - (rowTop[4] - PADT) : 180;
  const plotW = colWidth[c];

  useEffect(() => {
    if (!ref.current) return;
    const framePlugin = {
      id: 'frame' + idx,
      afterDraw(chart: any) {
        const { ctx, chartArea } = chart;
        const { left, top, right, bottom } = chartArea;
        ctx.save();
        ctx.strokeStyle = '#6e6e6e';
        ctx.lineWidth = 1;
        ctx.strokeRect(Math.round(left) + 0.5, Math.round(top) + 0.5, Math.round(right - left) - 1, Math.round(bottom - top) - 1);
        ctx.restore();
        const xs = chart.scales.x;
        const ys = chart.scales.y;
        xTicks.forEach((v) => stretchedText(ctx, String(v), xs.getPixelForValue(v), bottom + 15, TICK_SIZE, 'center', 'middle'));
        yTicks.forEach((v) => stretchedText(ctx, String(v), left - 8, ys.getPixelForValue(v) + 1, TICK_SIZE, 'right', 'middle'));
        stretchedText(ctx, titles[idx], (left + right) / 2, top - 26, TITLE_SIZE, 'center', 'middle');
        if (last) stretchedText(ctx, xLabel, (left + right) / 2, bottom + 47, LABEL_SIZE, 'center', 'alphabetic');
      },
    };
    const gridCommon = {
      color: '#b4b4b4',
      lineWidth: 1,
      drawTicks: false,
    };
    const chart = new Chart(ref.current, {
      type: 'line',
      data: {
        datasets: [
          {
            data: toPoints(redSeries[idx]),
            borderColor: '#ff1a00',
            borderWidth: 1.5,
            pointRadius: 0,
            tension: 0,
            order: 1,
          },
          {
            data: smoothYears.map((y, i) => ({ x: y, y: blueSeries[idx][i] })),
            borderColor: 'rgb(28,58,255)',
            borderWidth: 3,
            pointRadius: 0,
            cubicInterpolationMode: 'monotone',
            order: 2,
          },
        ],
      },
      options: {
        animation: false,
        responsive: false,
        maintainAspectRatio: false,
        events: [],
        layout: { padding: { left: PADL, top: PADT, right: CANVAS_W - PADL - plotW, bottom: canvasH - PADT - plotH } },
        plugins: { legend: { display: false }, tooltip: { enabled: false }, title: { display: false } },
        scales: {
          x: {
            type: 'linear',
            min: 1900,
            max: 2000,
            afterBuildTicks: (s: any) => { s.ticks = xTicks.map((v) => ({ value: v })); },
            afterFit: (s: any) => { s.height = 0; },
            ticks: { display: false },
            grid: gridCommon,
            border: { display: false, dash: [1, 2] },
          },
          y: {
            type: 'linear',
            min: -3,
            max: 3,
            afterBuildTicks: (s: any) => { s.ticks = yTicks.map((v) => ({ value: v })); },
            afterFit: (s: any) => { s.width = 0; },
            ticks: { display: false },
            grid: gridCommon,
            border: { display: false, dash: [1, 2] },
          },
        },
      } as any,
      plugins: [framePlugin],
    });
    return () => chart.destroy();
  }, [idx]);

  return (
    <canvas
      ref={ref}
      width={CANVAS_W}
      height={canvasH}
      style={{ position: 'absolute', left: colLeft[c] - PADL, top: rowTop[r] - PADT, width: CANVAS_W, height: canvasH }}
    />
  );
}

export default function App() {
  return (
    <div style={{ position: 'absolute', left: 0, top: 0, width: 746, height: 903, background: '#ffffff', overflow: 'hidden' }}>
      {titles.map((_, i) => (
        <Panel key={i} idx={i} />
      ))}
    </div>
  );
}
